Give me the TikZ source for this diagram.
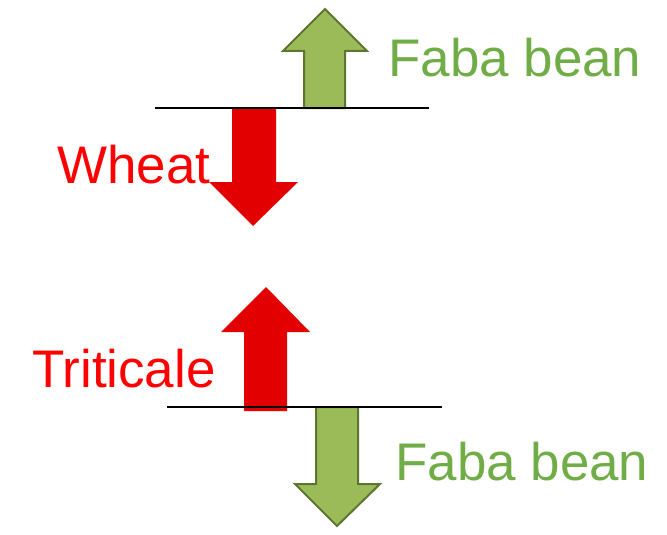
\documentclass[tikz,border=0pt]{standalone}
\usepackage{fontspec}
\setmainfont{Liberation Sans}
\usepackage{xcolor}
\usetikzlibrary{positioning}
\definecolor{rougeVif}{HTML}{E30000}
\definecolor{rougeTexte}{HTML}{FF0000}
\definecolor{vertFeve}{HTML}{9BBB59}
\definecolor{vertBord}{HTML}{5E7530}
\definecolor{vertTexte}{HTML}{70AD47}
\tikzset{
  flecheRouge/.style={fill=rougeVif, draw=none},
  flecheVerte/.style={fill=vertFeve, draw=vertBord, line width=1.5pt, line join=miter},
  niveau/.style={draw=black, line width=1.1pt},
  etiquette/.style={anchor=base west, inner sep=0pt, font=\fontsize{39.7}{45}\selectfont}
}
\begin{document}
\begin{tikzpicture}[x=0.75pt, y=-0.75pt]
  \useasboundingbox (0,0) rectangle (667,535);

  % --- Haut : la feve monte, le ble descend
  \draw[flecheVerte] (304,108) -- (304,51) -- (283,51) -- (325,9)
        -- (367,51) -- (345,51) -- (345,108) -- cycle;
  \fill[flecheRouge] (232,108) -- (232,182) -- (209,182) -- (253,226)
        -- (298,182) -- (276,182) -- (276,108) -- cycle;
  \coordinate (hautG) at (155,108);
  \coordinate (hautD) at (429,108);
  \draw[niveau] (hautG) -- (hautD);
  \node[etiquette, text=vertTexte]  (feveHaut) at (388,77)  {Faba bean};
  \node[etiquette, text=rougeTexte] (ble)      at (57,183)  {Wheat};

  % --- Bas : le triticale monte, la feve descend
  \fill[flecheRouge] (244,411) -- (244,332) -- (221,332) -- (266,287)
        -- (310,332) -- (287,332) -- (287,411) -- cycle;
  \draw[flecheVerte] (316,407) -- (316,484) -- (295,484) -- (337,526)
        -- (380,484) -- (358,484) -- (358,407) -- cycle;
  \coordinate (basG) at (167,407);
  \coordinate (basD) at (442,407);
  \draw[niveau] (basG) -- (basD);
  \node[etiquette, text=rougeTexte] (triticale) at (32,387)  {Triticale};
  \node[etiquette, text=vertTexte]  (feveBas)   at (395,480) {Faba bean};

\end{tikzpicture}
\end{document}
